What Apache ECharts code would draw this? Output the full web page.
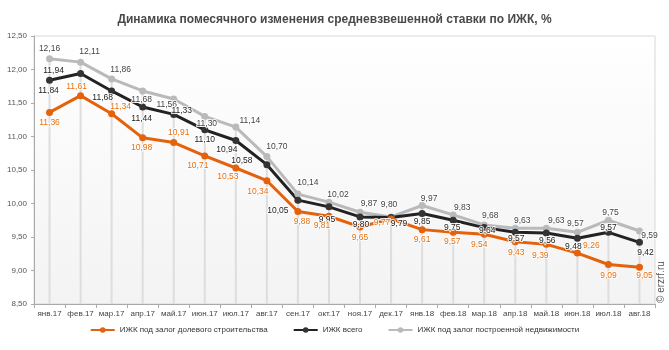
<!DOCTYPE html>
<html>
<head>
<meta charset="utf-8">
<script src="https://cdn.jsdelivr.net/npm/echarts@6/dist/echarts.min.js"></script>
<style>
	html, body { margin: 0; padding: 0; background: #fff; }
	#chart { width: 669px; height: 350px; }
</style>
</head>
<body>
<div id="chart"></div>
<script>
// месяцы
var months = ['янв.17', 'фев.17', 'мар.17', 'апр.17', 'май.17', 'июн.17', 'июл.17', 'авг.17', 'сен.17', 'окт.17',
	'ноя.17', 'дек.17', 'янв.18', 'фев.18', 'мар.18', 'апр.18', 'май.18', 'июн.18', 'июл.18', 'авг.18'];
// ИЖК под залог долевого строительства
var dduRates = [11.36, 11.61, 11.34, 10.98, 10.91, 10.71, 10.53, 10.34, 9.88, 9.81,
	9.65, 9.77, 9.61, 9.57, 9.54, 9.43, 9.39, 9.26, 9.09, 9.05];
// ИЖК всего
var totalRates = [11.84, 11.94, 11.68, 11.44, 11.33, 11.10, 10.94, 10.58, 10.05, 9.95,
	9.80, 9.79, 9.85, 9.75, 9.64, 9.57, 9.56, 9.48, 9.57, 9.42];
// ИЖК под залог построенной недвижимости
var builtRates = [12.16, 12.11, 11.86, 11.68, 11.56, 11.30, 11.14, 10.70, 10.14, 10.02,
	9.87, 9.80, 9.97, 9.83, 9.68, 9.63, 9.63, 9.57, 9.75, 9.59];
var seriesNames = ['ИЖК под залог долевого строительства', 'ИЖК всего', 'ИЖК под залог построенной недвижимости'];

// сдвиг подписей от центра точки, px
var dduLabelOffset = [[0, 10], [-4, -9], [9, -7], [-1, 10], [5, -10], [-7, 10], [-8, 9], [-9, 11], [4, 10], [-7, 9],
	[0, 11], [-9, 4], [0, 10], [-1, 9], [-5, 10], [1, 11], [-6, 11], [14, -7], [0, 11], [5, 9]];
var totalLabelOffset = [[-1, 10], [-27, -3], [-9, 7], [-1, 12], [8, -4], [0, 10], [-9, 9], [-25, -4], [-20, 11], [-2, 13],
	[1, 8], [8, 6], [0, 8], [-1, 7], [3, 3], [1, 6], [1, 8], [-4, 8], [0, -5], [6, 10]];
var builtLabelOffset = [[0, -10], [9, -10], [9, -9], [-1, 9], [-7, 6], [2, 7], [14, -6], [10, -10], [10, -11], [9, -8],
	[9, -9], [-2, -12], [7, -7], [9, -7], [6, -9], [7, -8], [10, -8], [-2, -9], [2, -8], [10, 5]];

function fmt(v) {
	return v.toFixed(2).replace('.', ',');
}

function withLabels(values, offsets) {
	return values.map(function (v, i) {
		return { value: v, label: { offset: offsets[i] } };
	});
}

var myChart = echarts.init(document.getElementById('chart'), null, { renderer: 'canvas' });

var labelFont = 'Liberation Sans, Arial, sans-serif';

function pointLabel(color) {
	return {
		show: true,
		position: 'inside',
		fontSize: 8.5,
		color: color,
		textBorderColor: 'rgba(255,255,255,0.85)',
		textBorderWidth: 2,
		formatter: function (p) { return fmt(p.value); }
	};
}

var option = {
	animation: false,
	textStyle: { fontFamily: labelFont },
	title: {
		text: 'Динамика помесячного изменения средневзвешенной ставки по ИЖК, %',
		left: 'center',
		top: 9,
		textStyle: { fontSize: 12, fontWeight: 'bold', color: '#4a4a4a', fontFamily: labelFont }
	},
	legend: {
		bottom: 11,
		left: 'center',
		itemWidth: 24,
		itemHeight: 7,
		itemGap: 25,
		data: seriesNames,
		textStyle: { fontSize: 8, color: '#333', fontFamily: labelFont }
	},
	grid: {
		left: 34,
		right: 14,
		top: 36,
		bottom: 46,
		show: true,
		borderColor: '#d8d8d8',
		borderWidth: 1,
		backgroundColor: new echarts.graphic.LinearGradient(0, 0, 0, 1, [
			{ offset: 0, color: '#ffffff' },
			{ offset: 1, color: '#f3f3f3' }
		])
	},
	xAxis: {
		type: 'category',
		data: months,
		boundaryGap: true,
		axisLine: { lineStyle: { color: '#aaa' } },
		axisTick: { show: true, lineStyle: { color: '#aaa' }, length: 4 },
		axisLabel: { interval: 0, fontSize: 8, color: '#444', margin: 6 }
	},
	yAxis: {
		type: 'value',
		min: 8.5,
		max: 12.5,
		interval: 0.5,
		axisLine: { show: true, lineStyle: { color: '#aaa' } },
		axisTick: { show: true, lineStyle: { color: '#aaa' }, length: 3 },
		splitLine: { show: false },
		axisLabel: { fontSize: 8, color: '#555', margin: 7, formatter: fmt }
	},
	graphic: [{
		type: 'text',
		x: 656,
		y: 303,
		rotation: Math.PI / 2,
		style: { text: '© erzrf.ru', fontSize: 10, fill: '#555', fontFamily: labelFont }
	}],
	series: [
		{
			// вертикальные линии от точек к оси
			name: 'drop',
			type: 'bar',
			data: builtRates,
			barWidth: 2,
			silent: true,
			z: 1,
			itemStyle: { color: '#dddddd' }
		},
		{
			name: seriesNames[2],
			type: 'line',
			data: withLabels(builtRates, builtLabelOffset),
			z: 3,
			symbol: 'circle',
			symbolSize: 7,
			lineStyle: { width: 3, color: '#bababa' },
			itemStyle: { color: '#bababa' },
			label: pointLabel('#444')
		},
		{
			name: seriesNames[1],
			type: 'line',
			data: withLabels(totalRates, totalLabelOffset),
			z: 3,
			symbol: 'circle',
			symbolSize: 7,
			lineStyle: { width: 3, color: '#222' },
			itemStyle: { color: '#333' },
			label: pointLabel('#222')
		},
		{
			name: seriesNames[0],
			type: 'line',
			data: withLabels(dduRates, dduLabelOffset),
			z: 3,
			symbol: 'circle',
			symbolSize: 7,
			lineStyle: { width: 3, color: '#e4620c' },
			itemStyle: { color: '#e4620c' },
			label: pointLabel('#e8700f')
		}
	]
};

myChart.setOption(option);
</script>
</body>
</html>
